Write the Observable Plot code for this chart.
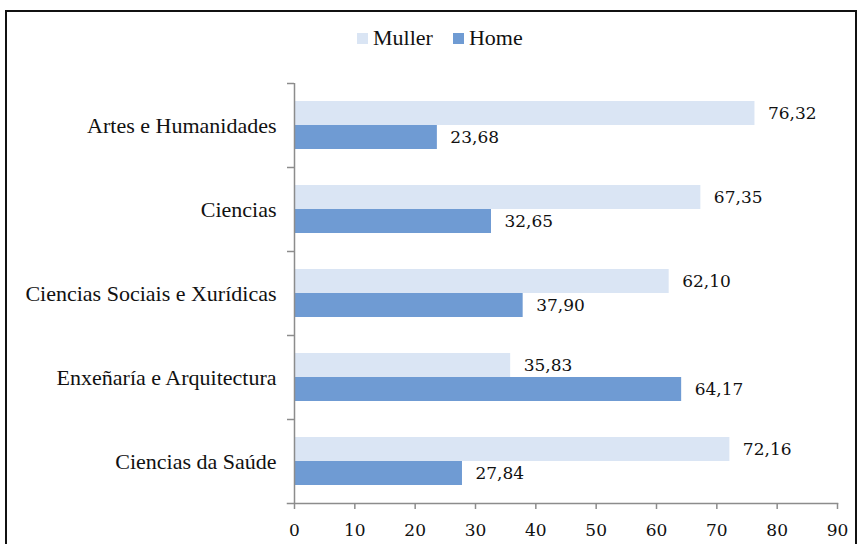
<!DOCTYPE html>
<html>
<head>
<meta charset="utf-8">
<script src="https://cdn.jsdelivr.net/npm/d3@7"></script>
<script src="https://cdn.jsdelivr.net/npm/@observablehq/plot@0.6"></script>
<style>
  html, body { margin: 0; padding: 0; background: #fff; }
  #wrap { position: relative; width: 858px; height: 544px; overflow: hidden; background: #fff; }
  #frame { position: absolute; left: 5px; top: 10px; width: 852px; height: 600px; border: 2.5px solid #111; box-sizing: border-box; }
  #chart { position: absolute; left: 0; top: 0; }
  #legend { position: absolute; left: 357px; top: 25px; }
  #legend div, #legend span { font-family: "Liberation Serif", serif !important; font-size: 22px !important; color: #111 !important; }
  #legend > div { margin: 0 !important; min-height: 0 !important; }
  .lg-swatch { margin-right: 20px !important; }
  .lg-swatch > svg { margin-right: 5px !important; }
</style>
</head>
<body>
<div id="wrap">
  <div id="frame"></div>
  <div id="chart"></div>
  <div id="legend"></div>
</div>
<script>
const categories = ["Artes e Humanidades", "Ciencias", "Ciencias Sociais e Xurídicas", "Enxeñaría e Arquitectura", "Ciencias da Saúde"];
const series = ["Muller", "Home"];
const muller = [76.32, 67.35, 62.10, 35.83, 72.16];
const home = [23.68, 32.65, 37.90, 64.17, 27.84];
const xTicks = [0, 10, 20, 30, 40, 50, 60, 70, 80, 90];
const colors = ["#dae5f4", "#6f9bd3"];

const rowsM = categories.map((c, i) => ({category: c, series: "Muller", value: muller[i]}));
const rowsH = categories.map((c, i) => ({category: c, series: "Home", value: home[i]}));
const fmt = v => v.toFixed(2).replace(".", ",");

const axisColor = "#8c8c8c";
const serifNum = "DejaVu Serif";
const serifText = "Liberation Serif";

const chart = Plot.plot({
  width: 858,
  height: 544,
  marginTop: 83,
  marginBottom: 41,
  marginLeft: 294,
  marginRight: 21,
  style: {background: "transparent", color: "#111"},
  x: {domain: [0, 90], ticks: xTicks},
  y: {domain: categories, padding: 0},
  color: {domain: series, range: colors},
  marks: [
    Plot.barX(rowsM, {x: "value", y: "category", fill: "series", insetTop: 18, insetBottom: 42}),
    Plot.barX(rowsH, {x: "value", y: "category", fill: "series", insetTop: 42, insetBottom: 18}),
    Plot.text(rowsM, {x: "value", y: "category", text: d => fmt(d.value), dx: 13, dy: -12, textAnchor: "start", fontSize: 17, fontFamily: serifNum, fill: "#111"}),
    Plot.text(rowsH, {x: "value", y: "category", text: d => fmt(d.value), dx: 13, dy: 12, textAnchor: "start", fontSize: 17, fontFamily: serifNum, fill: "#111"}),
    Plot.ruleX([0], {stroke: axisColor, strokeWidth: 1.5}),
    Plot.frame({anchor: "bottom", stroke: axisColor, strokeWidth: 1.5, insetLeft: -7}),
    Plot.axisY({tickSize: 7, tickFormat: () => "", dy: -42, stroke: axisColor, strokeWidth: 1.5, label: null}),
    Plot.axisY({tickSize: 0, tickPadding: 18, fontSize: 22, fontFamily: serifText, fill: "#111", label: null}),
    Plot.axisX({ticks: xTicks, tickSize: 6, tickFormat: () => "", stroke: axisColor, strokeWidth: 1.5, label: null}),
    Plot.axisX({ticks: xTicks, tickSize: 0, tickPadding: 20, fontSize: 17, fontFamily: serifNum, fill: "#111", label: null})
  ]
});
document.getElementById("chart").appendChild(chart);

const legend = Plot.legend({
  color: {domain: series, range: colors},
  legend: "swatches",
  swatchSize: 11,
  className: "lg"
});
document.getElementById("legend").appendChild(legend);
</script>
</body>
</html>
